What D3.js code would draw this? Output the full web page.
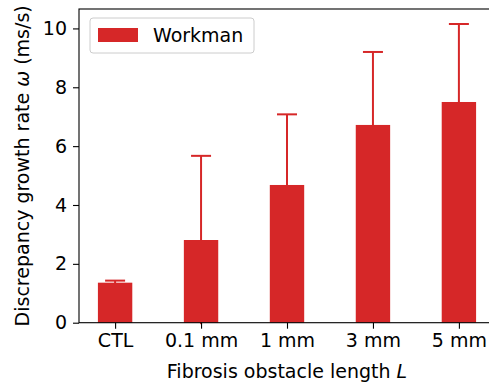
<!DOCTYPE html>
<html>
<head>
<meta charset="utf-8">
<script src="https://cdn.jsdelivr.net/npm/d3@7"></script>
<style>
  body { margin: 0; background: #fff; }
  text { font-family: "DejaVu Sans", sans-serif; fill: #000; }
</style>
</head>
<body>
<svg id="chart" width="489" height="388"></svg>
<script>
// obstacle lengths and measured growth rates (mean + upper error)
var categories = ["CTL", "0.1 mm", "1 mm", "3 mm", "5 mm"]
var means = [1.36, 2.81, 4.68, 6.72, 7.50]
var errors = [0.07, 2.86, 2.40, 2.48, 2.65]
var yTicks = [0, 2, 4, 6, 8, 10]
var seriesName = "Workman"

var red = "#d62728"
var margin = {top: 9, left: 79}
var plotW = 416, plotH = 313.7

var svg = d3.select("#chart")
var g = svg.append("g").attr("transform", "translate(" + margin.left + "," + margin.top + ")")

// bar positions 0..4, bar width 0.4, padded like matplotlib
var x = d3.scaleLinear().domain([-0.42, categories.length - 1 + 0.42]).range([0, plotW])
var y = d3.scaleLinear().domain([0, 10.66]).range([plotH, 0])
var barW = x(0.4) - x(0)

// error bars first, bars painted over them
var eb = g.selectAll(".err").data(means).enter().append("g").attr("class", "err")
eb.append("line")
    .attr("x1", (d, i) => x(i)).attr("x2", (d, i) => x(i))
    .attr("y1", (d, i) => y(d - errors[i])).attr("y2", (d, i) => y(d + errors[i]))
    .attr("stroke", red).attr("stroke-width", 2)
eb.append("line")
    .attr("x1", (d, i) => x(i) - 10).attr("x2", (d, i) => x(i) + 10)
    .attr("y1", (d, i) => y(d + errors[i])).attr("y2", (d, i) => y(d + errors[i]))
    .attr("stroke", red).attr("stroke-width", 2)

g.selectAll("rect.bar").data(means).enter().append("rect")
    .attr("class", "bar")
    .attr("x", (d, i) => x(i) - barW / 2)
    .attr("width", barW)
    .attr("y", d => y(d))
    .attr("height", d => y(0) - y(d))
    .attr("fill", red)

// axes
var xAxis = d3.axisBottom(x).tickValues(d3.range(categories.length))
    .tickFormat(i => categories[i]).tickSize(6).tickPadding(5)
var yAxis = d3.axisLeft(y).tickValues(yTicks).tickSize(6).tickPadding(6)

var gx = g.append("g").attr("transform", "translate(0," + plotH + ")").call(xAxis)
var gy = g.append("g").call(yAxis)
gx.select(".domain").remove()
gy.select(".domain").remove()
g.selectAll(".tick text").style("font-size", "19px").attr("fill", "#000")
g.selectAll(".tick line").attr("stroke", "#000").attr("stroke-width", 1.1)

// spines
g.append("rect").attr("x", 0).attr("y", 0).attr("width", plotW).attr("height", plotH)
    .attr("fill", "none").attr("stroke", "#000").attr("stroke-width", 1.1)

// axis labels
var xl = svg.append("text").attr("x", 287).attr("y", 378)
    .attr("text-anchor", "middle").style("font-size", "19px")
xl.append("tspan").text("Fibrosis obstacle length ")
xl.append("tspan").attr("font-style", "italic").text("L")

var yl = svg.append("text")
    .attr("transform", "translate(29," + (margin.top + plotH / 2) + ") rotate(-90)")
    .attr("text-anchor", "middle").style("font-size", "19px")
yl.append("tspan").text("Discrepancy growth rate ")
yl.append("tspan").attr("font-style", "italic").text("ω")
yl.append("tspan").text(" (ms/s)")

// legend
var lg = svg.append("g").attr("transform", "translate(90,18)")
lg.append("rect").attr("width", 164).attr("height", 35).attr("rx", 3)
    .attr("fill", "#fff").attr("fill-opacity", 0.8)
    .attr("stroke", "#ccc").attr("stroke-width", 1)
lg.append("rect").attr("x", 8).attr("y", 10).attr("width", 40).attr("height", 14).attr("fill", red)
lg.append("text").attr("x", 63).attr("y", 24).style("font-size", "19px").text(seriesName)
</script>
</body>
</html>
